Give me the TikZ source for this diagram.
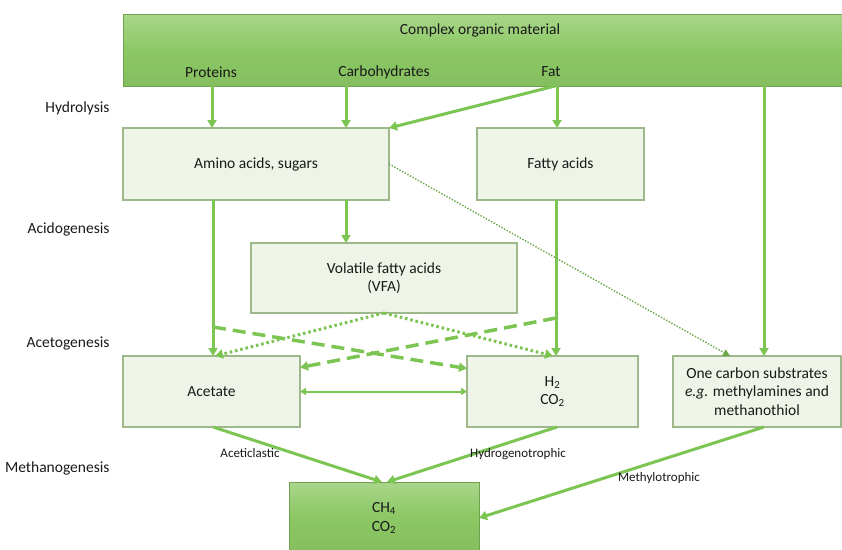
\documentclass[tikz,border=0pt]{standalone}
\usepackage{fontspec}
\setmainfont{Carlito}
\usetikzlibrary{arrows.meta,calc,shadows}
\definecolor{lg}{HTML}{7DC553}
\definecolor{boxfill}{HTML}{EEF5E8}
\definecolor{boxedge}{HTML}{9DB88A}
\definecolor{darkbox}{HTML}{8CC864}
\definecolor{txt}{HTML}{1A1A1A}
\begin{document}
\begin{tikzpicture}[x=1pt,y=-1pt,
  every node/.style={text=txt,font=\fontsize{15.5}{18.5}\selectfont},
  lbox/.style={draw=boxedge,line width=1.1pt,fill=boxfill,inner sep=0pt,outer sep=0pt,align=center,
     drop shadow={shadow xshift=1.2pt,shadow yshift=-1.2pt,opacity=0.2}},
  dbox/.style={draw=darkbox!80!black,line width=0.8pt,top color=darkbox!75!white,bottom color=darkbox!95!black,
     middle color=darkbox,inner sep=0pt,outer sep=0pt,align=center},
  arr/.style={draw=lg,line width=3pt,-{Triangle[length=8pt,width=9pt]}},
  thinarr/.style={draw=lg,line width=2pt,{Triangle[length=6pt,width=7pt]}-{Triangle[length=6pt,width=7pt]}},
  dasharr/.style={draw=lg,line width=3.5pt,dash pattern=on 13pt off 7pt,-{Triangle[length=8pt,width=9pt]}},
  dotarr/.style={draw=lg,line width=3pt,dash pattern=on 2.6pt off 2.8pt,-{Triangle[length=8pt,width=9pt]}},
  finedot/.style={draw=lg!85!black,line width=1.4pt,dash pattern=on 1.4pt off 1.6pt,-{Triangle[length=7pt,width=7pt]}},
  stage/.style={anchor=east},
  small/.style={font=\fontsize{13}{15}\selectfont}
]
\fill[white] (0,0) rectangle (842,549);
\useasboundingbox (0,0) rectangle (842,549);

% top box
\node[dbox,minimum width=719pt,minimum height=72pt] (top) at (482.5,50) {};
\node (com) at (480,30) {Complex organic material};
\node (prot) at (211,72) {Proteins};
\node (carb) at (384,72) {Carbohydrates};
\node (fat) at (551,72) {Fat};

% stage labels
\node[stage] (hyd) at (113,108) {Hydrolysis};
\node[stage] (acid) at (113,229) {Acidogenesis};
\node[stage] (aceto) at (113,343) {Acetogenesis};
\node[stage] (meth) at (113,468) {Methanogenesis};

% boxes
\node[lbox,minimum width=266pt,minimum height=72pt] (amino) at (256,164) {Amino acids, sugars};
\node[lbox,minimum width=167pt,minimum height=72pt] (fatty) at (560.5,164) {Fatty acids};
\node[lbox,minimum width=266pt,minimum height=70pt] (vfa) at (384,278) {Volatile fatty acids\\(VFA)};
\node[lbox,minimum width=177pt,minimum height=71pt] (acet) at (211.5,391.5) {Acetate};
\node[lbox,minimum width=171pt,minimum height=71pt] (h2) at (552.5,391.5) {H\textsubscript{2}\\CO\textsubscript{2}};
\node[lbox,minimum width=168pt,minimum height=71pt] (onec) at (757,391.5) {One carbon substrates\\\textit{e.g.} methylamines and\\methanothiol};
\node[dbox,minimum width=190pt,minimum height=68pt] (ch4) at (384,516) {};
\node[align=center] (ch4t) at (384,518) {CH\textsubscript{4}\\[1pt]CO\textsubscript{2}};

% x reference coordinates
\coordinate (xp) at (212,0);
\coordinate (xc) at (346,0);
\coordinate (xf) at (557,0);
\coordinate (xr) at (764,0);
\coordinate (xa) at (213,0);
\coordinate (xh) at (556,0);
\coordinate (xt) at (730,0);
\coordinate (d1) at (213,327);
\coordinate (d2) at (556,318);

% hydrolysis arrows
\draw[arr] (top.south -| xp) -- (amino.north -| xp);
\draw[arr] (top.south -| xc) -- (amino.north -| xc);
\draw[arr] (top.south -| xf) -- (fatty.north -| xf);
\draw[arr] ($(top.south -| xf)+(-2,0)$) -- (amino.north east);
\draw[arr] (top.south -| xr) -- (onec.north -| xr);

% acidogenesis
\draw[arr] (amino.south -| xa) -- (acet.north -| xa);
\draw[arr] (amino.south -| xc) -- (vfa.north -| xc);
\draw[arr] (fatty.south -| xh) -- (h2.north -| xh);
\draw[finedot] (amino.east) -- (onec.north -| xt);

% acetogenesis
\draw[dasharr] (d1) -- ($(h2.west)+(0,-23)$);
\draw[dasharr] (d2) -- ($(acet.east)+(0,-24)$);
\draw[dotarr] (vfa.south) -- ($(acet.north -| xa)+(2,0)$);
\draw[dotarr] (vfa.south) -- ($(h2.north -| xh)+(-3,0)$);
\draw[thinarr] (acet.east) -- (h2.west);

% methanogenesis
\draw[arr] (acet.south -| xa) -- ($(ch4.north)+(-2,0)$);
\draw[arr] (h2.south -| xf) -- ($(ch4.north)+(3,0)$);
\draw[arr] (onec.south -| xr) -- ($(ch4.east)+(0,2)$);

\node[small] (lac) at (250,453) {Aceticlastic};
\node[small] (lhy) at (518,454) {Hydrogenotrophic};
\node[small] (lme) at (659,478) {Methylotrophic};
\end{tikzpicture}
\end{document}
